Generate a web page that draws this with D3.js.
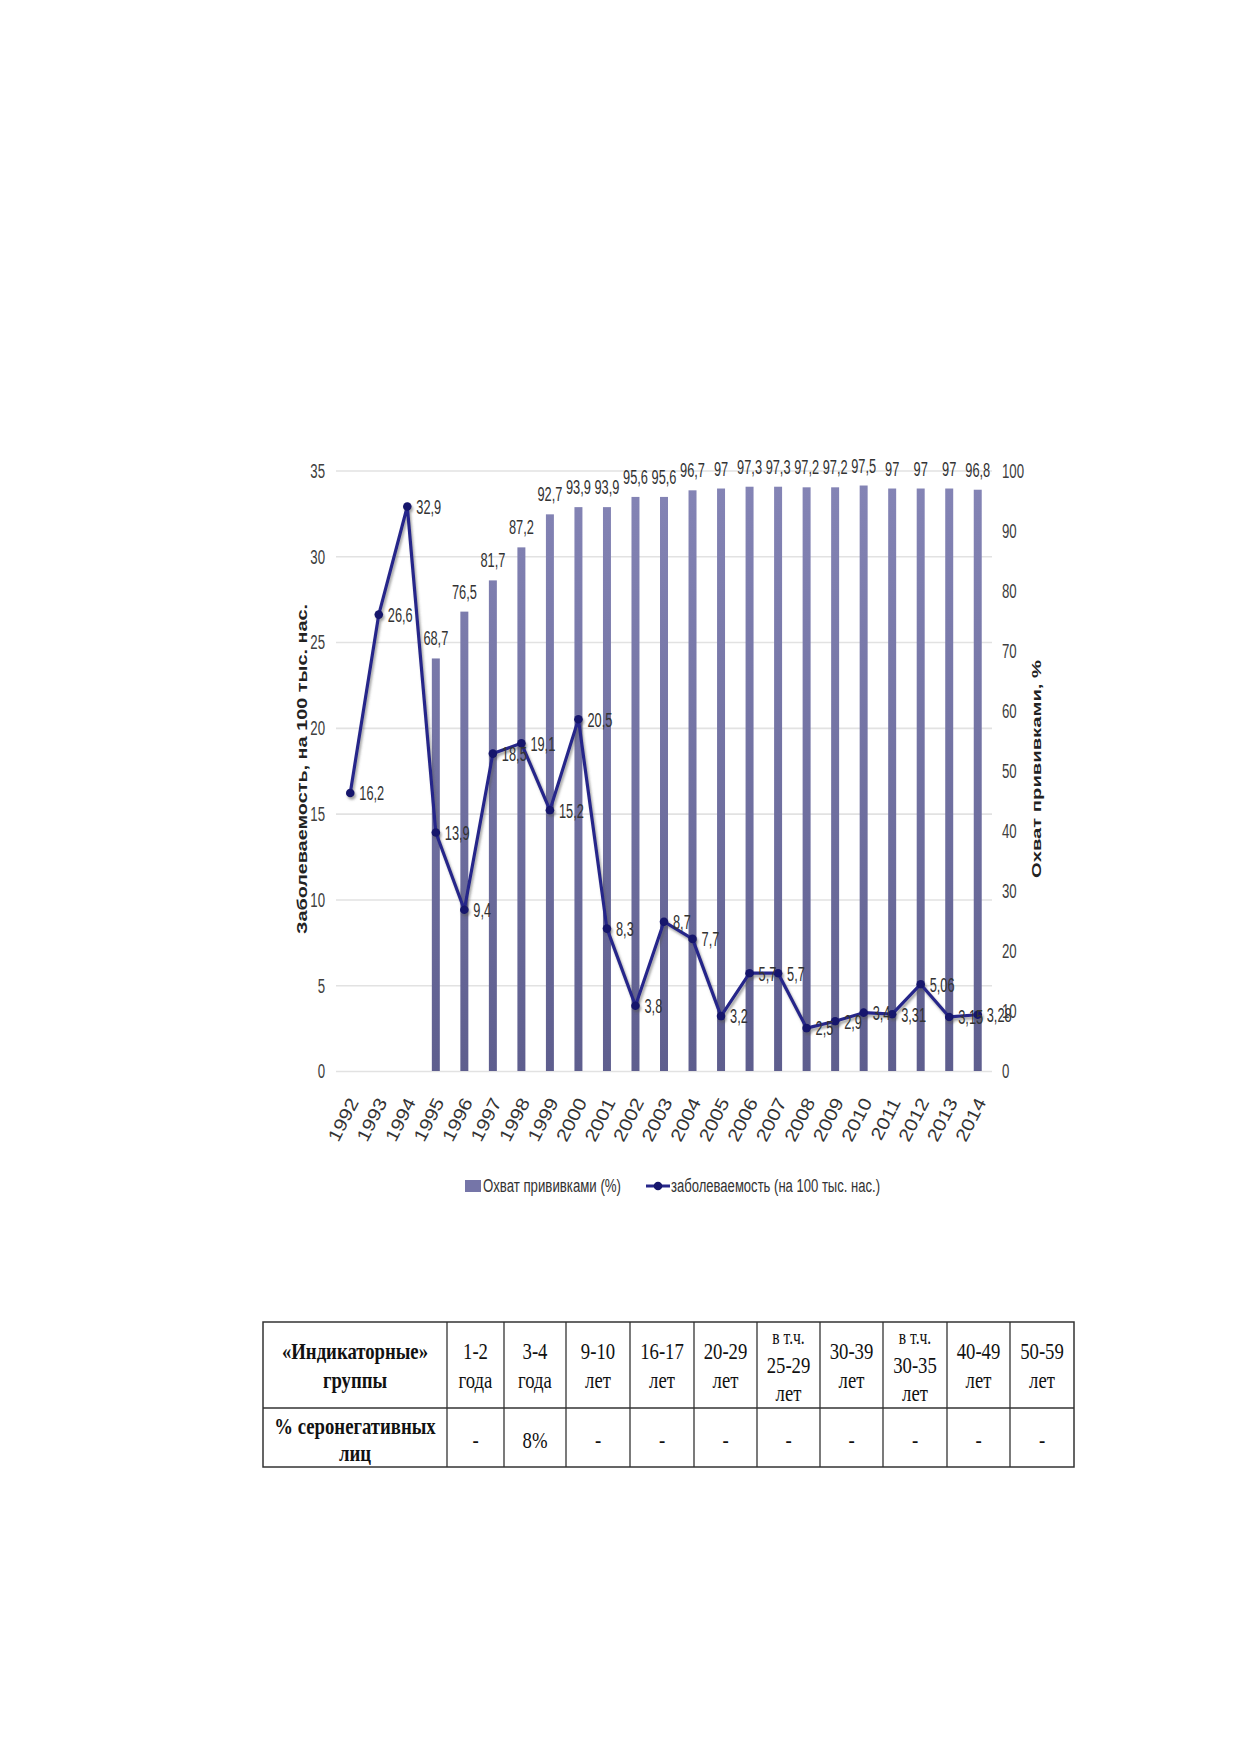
<!DOCTYPE html>
<html>
<head>
<meta charset="utf-8">
<script src="https://cdn.jsdelivr.net/npm/d3@7"></script>
<style>
  body { margin: 0; background: #fff; }
  svg { display: block; }
</style>
</head>
<body>
<div id="chart"></div>
<script>
// data
const years = ['1992', '1993', '1994', '1995', '1996', '1997', '1998', '1999', '2000', '2001', '2002', '2003',
  '2004', '2005', '2006', '2007', '2008', '2009', '2010', '2011', '2012', '2013', '2014']
const incidence = [16.2, 26.6, 32.9, 13.9, 9.4, 18.5, 19.1, 15.2, 20.5, 8.3, 3.8, 8.7,
  7.7, 3.2, 5.7, 5.7, 2.5, 2.9, 3.4, 3.31, 5.06, 3.15, 3.28]
const coverage = [null, null, null, 68.7, 76.5, 81.7, 87.2, 92.7, 93.9, 93.9, 95.6, 95.6,
  96.7, 97, 97.3, 97.3, 97.2, 97.2, 97.5, 97, 97, 97, 96.8]
const leftTicks = [0, 5, 10, 15, 20, 25, 30, 35]
const rightTicks = [0, 10, 20, 30, 40, 50, 60, 70, 80, 90, 100]
const leftTitle = 'Заболеваемость, на 100 тыс. нас.'
const rightTitle = 'Охват прививками, %'
const legendBar = 'Охват прививками (%)'
const legendLine = 'заболеваемость (на 100 тыс. нас.)'

const tableHeader = [['«Индикаторные»', 'группы'], ['1-2', 'года'], ['3-4', 'года'], ['9-10', 'лет'], ['16-17', 'лет'],
  ['20-29', 'лет'], ['в т.ч.', '25-29', 'лет'], ['30-39', 'лет'], ['в т.ч.', '30-35', 'лет'], ['40-49', 'лет'], ['50-59', 'лет']]
const tableRow = [['% серонегативных', 'лиц'], ['-'], ['8%'], ['-'], ['-'], ['-'], ['-'], ['-'], ['-'], ['-'], ['-']]

const W = 1239
const H = 1752
const fmt = (v) => String(v).replace('.', ',')

const svg = d3.select('#chart').append('svg').attr('width', W).attr('height', H)
svg.append('rect').attr('width', W).attr('height', H).attr('fill', '#fff')

const defs = svg.append('defs')
const grad = defs.append('linearGradient').attr('id', 'barGrad')
  .attr('gradientUnits', 'userSpaceOnUse').attr('x1', 0).attr('x2', 0).attr('y1', 470).attr('y2', 1071)
grad.append('stop').attr('offset', '0%').attr('stop-color', '#8585b6')
grad.append('stop').attr('offset', '100%').attr('stop-color', '#5e5e8e')
const shadow = defs.append('filter').attr('id', 'shadow').attr('x', '-20%').attr('y', '-20%').attr('width', '140%').attr('height', '140%')
shadow.append('feDropShadow').attr('dx', 1.5).attr('dy', 2.5).attr('stdDeviation', 1.3)
  .attr('flood-color', '#555').attr('flood-opacity', 0.55)

// plot area
const plotLeft = 336
const plotRight = 992
const plotTop = 470.5
const plotBottom = 1071

const x = d3.scaleBand().domain(years).range([plotLeft, plotRight]).paddingInner(0.72).paddingOuter(0.36)
const cx = (yr) => x(yr) + x.bandwidth() / 2
const yL = d3.scaleLinear().domain([0, 35]).range([plotBottom, plotTop])
const yR = d3.scaleLinear().domain([0, 100]).range([plotBottom, plotTop])

// condensed text: the figure's lettering is tall and narrow
function ctext(g, px, py, str, size, sx, anchor) {
  return g.append('text')
    .attr('transform', `translate(${px},${py}) scale(${sx},1)`)
    .attr('text-anchor', anchor || 'start')
    .style('font-family', '"Liberation Sans", Arial, sans-serif')
    .style('font-size', size + 'px')
    .attr('fill', '#333')
    .text(str)
}

// gridlines
svg.append('g')
  .attr('transform', `translate(${plotLeft},0)`)
  .call(d3.axisLeft(yL).tickValues(leftTicks).tickSize(-(plotRight - plotLeft)).tickFormat(''))
  .call((g) => g.select('.domain').remove())
  .selectAll('.tick line').attr('stroke', '#e2e2e2').attr('stroke-width', 1.6)

const axisText = svg.append('g')
leftTicks.forEach((t) => {
  ctext(axisText, 325, yL(t), t, 21, 0.63, 'end').attr('dy', '0.35em').attr('fill', '#404040')
})
rightTicks.forEach((t) => {
  ctext(axisText, 1002, yR(t), t, 21, 0.63, 'start').attr('dy', '0.35em').attr('fill', '#404040')
})

// bars
const barData = years.map((yr, i) => ({ yr, v: coverage[i] })).filter((d) => d.v !== null)
svg.append('g').selectAll('rect').data(barData).join('rect')
  .attr('x', (d) => x(d.yr))
  .attr('width', x.bandwidth())
  .attr('y', (d) => yR(d.v))
  .attr('height', (d) => yR(0) - yR(d.v))
  .attr('fill', 'url(#barGrad)')

const barLabels = svg.append('g')
barData.forEach((d) => {
  ctext(barLabels, cx(d.yr), yR(d.v) - 13, fmt(d.v), 21, 0.61, 'middle')
})

// incidence line
const lineData = years.map((yr, i) => ({ yr, v: incidence[i] }))
const line = d3.line().x((d) => cx(d.yr)).y((d) => yL(d.v))
const lineG = svg.append('g').attr('filter', 'url(#shadow)')
lineG.append('path').datum(lineData)
  .attr('d', line)
  .attr('fill', 'none')
  .attr('stroke', '#27278a')
  .attr('stroke-width', 3.2)
  .attr('stroke-linejoin', 'round')
lineG.selectAll('circle').data(lineData).join('circle')
  .attr('cx', (d) => cx(d.yr))
  .attr('cy', (d) => yL(d.v))
  .attr('r', 4.3)
  .attr('fill', '#16166c')

const lineLabels = svg.append('g')
lineData.forEach((d) => {
  ctext(lineLabels, cx(d.yr) + 9, yL(d.v), fmt(d.v), 21, 0.61, 'start').attr('dy', '0.35em')
})

// year labels
svg.append('g').selectAll('text').data(years).join('text')
  .attr('transform', (d) => `translate(${cx(d) + 9},${plotBottom + 31}) rotate(-63) scale(1.15,1)`)
  .attr('text-anchor', 'end')
  .style('font-family', '"Liberation Sans", Arial, sans-serif')
  .style('font-size', '18px')
  .attr('fill', '#333')
  .text((d) => d)

// axis titles
svg.append('text')
  .attr('transform', 'translate(302,769) rotate(-90)')
  .attr('text-anchor', 'middle')
  .attr('dy', '0.35em')
  .attr('textLength', 330)
  .attr('lengthAdjust', 'spacingAndGlyphs')
  .style('font-family', '"Liberation Sans", Arial, sans-serif')
  .style('font-size', '14px')
  .style('font-weight', 'bold')
  .attr('fill', '#222')
  .text(leftTitle)

svg.append('text')
  .attr('transform', 'translate(1036,769) rotate(-90)')
  .attr('text-anchor', 'middle')
  .attr('dy', '0.35em')
  .attr('textLength', 218)
  .attr('lengthAdjust', 'spacingAndGlyphs')
  .style('font-family', '"Liberation Sans", Arial, sans-serif')
  .style('font-size', '13px')
  .style('font-weight', 'bold')
  .attr('fill', '#222')
  .text(rightTitle)

// legend
const legend = svg.append('g').attr('transform', 'translate(0,1186)')
legend.append('rect').attr('x', 465).attr('y', -6).attr('width', 16).attr('height', 12).attr('fill', '#7575a8')
legend.append('text')
  .attr('x', 483).attr('dy', '0.35em')
  .attr('textLength', 138).attr('lengthAdjust', 'spacingAndGlyphs')
  .style('font-family', '"Liberation Sans", Arial, sans-serif').style('font-size', '18px')
  .attr('fill', '#333')
  .text(legendBar)
legend.append('line').attr('x1', 646).attr('x2', 670).attr('y1', 0).attr('y2', 0)
  .attr('stroke', '#27278a').attr('stroke-width', 3)
legend.append('circle').attr('cx', 658).attr('cy', 0).attr('r', 4.3).attr('fill', '#16166c')
legend.append('text')
  .attr('x', 671).attr('dy', '0.35em')
  .attr('textLength', 209).attr('lengthAdjust', 'spacingAndGlyphs')
  .style('font-family', '"Liberation Sans", Arial, sans-serif').style('font-size', '18px')
  .attr('fill', '#333')
  .text(legendLine)

// table below the chart
const colEdges = [263, 447, 504, 566, 630, 694, 757, 820, 883, 947, 1010, 1074]
const rowEdges = [1322, 1408, 1467]
const table = svg.append('g')
table.append('rect')
  .attr('x', colEdges[0]).attr('y', rowEdges[0])
  .attr('width', colEdges[colEdges.length - 1] - colEdges[0])
  .attr('height', rowEdges[2] - rowEdges[0])
  .attr('fill', 'none').attr('stroke', '#333').attr('stroke-width', 1.5)
colEdges.slice(1, -1).forEach((cxe) => {
  table.append('line').attr('x1', cxe).attr('x2', cxe).attr('y1', rowEdges[0]).attr('y2', rowEdges[2])
    .attr('stroke', '#333').attr('stroke-width', 1.3)
})
table.append('line').attr('x1', colEdges[0]).attr('x2', colEdges[colEdges.length - 1])
  .attr('y1', rowEdges[1]).attr('y2', rowEdges[1]).attr('stroke', '#333').attr('stroke-width', 1.3)

function cellText(lines, col, r0, r1, bold, gap) {
  const mx = (colEdges[col] + colEdges[col + 1]) / 2
  const my = (r0 + r1) / 2
  lines.forEach((s, i) => {
    const small = s === 'в т.ч.'
    table.append('text')
      .attr('transform', `translate(${mx},${my + (i - (lines.length - 1) / 2) * gap}) scale(0.78,1)`)
      .attr('text-anchor', 'middle')
      .attr('dy', '0.35em')
      .style('font-family', '"Liberation Serif", "Times New Roman", serif')
      .style('font-size', small ? '20px' : '24px')
      .style('font-weight', bold ? 'bold' : 'normal')
      .attr('fill', '#111')
      .text(s)
  })
}
tableHeader.forEach((lines, i) => cellText(lines, i, rowEdges[0], rowEdges[1], i === 0, lines.length > 2 ? 28 : 29))
tableRow.forEach((lines, i) => cellText(lines, i, rowEdges[1], rowEdges[2] + 4, i === 0, 27))
</script>
</body>
</html>
